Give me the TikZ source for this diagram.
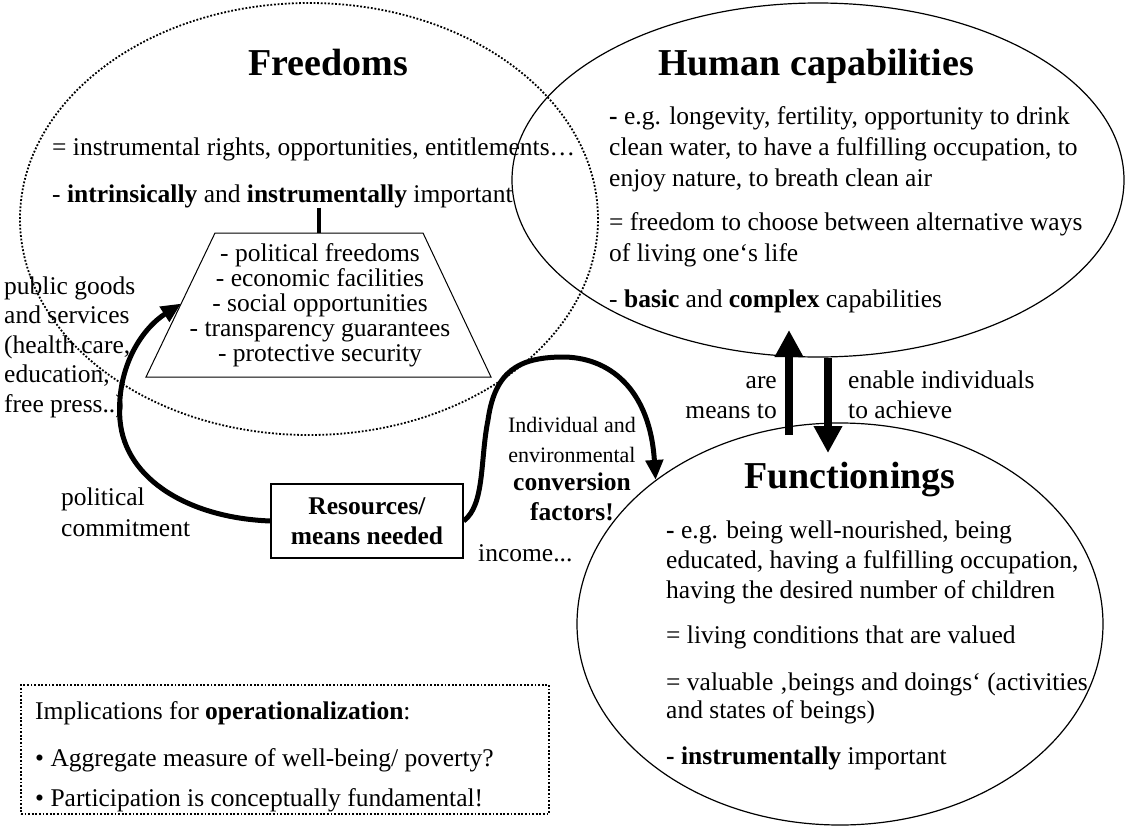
\documentclass[tikz,border=0pt]{standalone}
\usepackage{fontspec}
\setmainfont{Liberation Serif}
\usetikzlibrary{shapes.geometric,arrows.meta,calc}
\begin{document}
\begin{tikzpicture}[x=1pt,y=-1pt,
  body/.style={font=\fontsize{25.5}{31}\selectfont, inner sep=0pt, anchor=base west},
  bodyr/.style={body, anchor=base east},
  small/.style={font=\fontsize{22}{26}\selectfont, inner sep=0pt, anchor=base},
  boldc/.style={font=\fontsize{25.5}{31}\selectfont\bfseries, inner sep=0pt, anchor=base},
  ttl/.style={font=\fontsize{38}{44}\selectfont\bfseries, inner sep=0pt, anchor=base},
  dotline/.style={line width=1.8pt, dash pattern=on 1.8pt off 1.8pt},
  solidell/.style={ellipse, draw, line width=1.2pt, inner sep=0pt},
  bigarrow/.style={line width=8pt, -{Triangle[length=27pt,width=27pt]}},
  curvearrow/.style={line width=5pt, -{Triangle[length=20pt,width=17pt]}},
]
\useasboundingbox (0,0) rectangle (1125,830);

% ellipses
\node[ellipse, draw, dotline, inner sep=0pt, minimum width=578pt, minimum height=432pt] (fr) at (309,219) {};
\node[solidell, minimum width=612pt, minimum height=354pt] (hc) at (818,180) {};
\node[solidell, minimum width=526pt, minimum height=402pt] (fn) at (840,624) {};

% titles
\node[ttl] (frt) at (328,75) {Freedoms};
\node[ttl] (hct) at (816,75) {Human capabilities};
\node[ttl] (fnt) at (850,488) {Functionings};

% Freedoms text
\node[body] (fr1) at (52,155) {= instrumental rights, opportunities, entitlements…};
\node[body] (fr2) at (52,202) {- \textbf{intrinsically} and \textbf{instrumentally} important};

% trapezoid
\coordinate (trTL) at (215,233);
\coordinate (trTR) at (423,233);
\coordinate (trBR) at (491,377);
\coordinate (trBL) at (146,377);
\coordinate (trN) at (319,233);
\draw[line width=1pt] (trTL) -- (trTR) -- (trBR) -- (trBL) -- cycle;
\node[font=\fontsize{25.5}{25}\selectfont, inner sep=0pt, align=center] (trtext) at (320,305) {- political freedoms\\- economic facilities\\- social opportunities\\- transparency guarantees\\- protective security};
\draw[line width=4pt] (trN |- fr2.south) -- (trN);

% capabilities text
\node[body] (hc1) at (609,124) {\textbf{-} e.g. longevity, fertility, opportunity to drink};
\node[body] (hc2) at (609,155) {clean water, to have a fulfilling occupation, to};
\node[body] (hc3) at (609,186) {enjoy nature, to breath clean air};
\node[body] (hc4) at (609,230) {= freedom to choose between alternative ways};
\node[body] (hc5) at (609,261) {of living one‘s life};
\node[body] (hc6) at (609,307) {- \textbf{basic} and \textbf{complex} capabilities};

% functionings text
\node[body] (fn1) at (666,538) {\textbf{-} e.g. being well-nourished, being};
\node[body] (fn2) at (666,568) {educated, having a fulfilling occupation,};
\node[body] (fn3) at (666,598) {having the desired number of children};
\node[body] (fn4) at (666,643) {= living conditions that are valued};
\node[body] (fn5) at (666,690) {= valuable ‚beings and doings‘ (activities};
\node[body] (fn6) at (666,718) {and states of beings)};
\node[body] (fn7) at (666,764) {\textbf{- instrumentally} important};

% left labels
\node[body] (pg1) at (4,294) {public goods};
\node[body] (pg2) at (4,323.5) {and services};
\node[body] (pg3) at (4,353) {(health care,};
\node[body] (pg4) at (4,382.5) {education,};
\node[body] (pg5) at (4,412) {free press..)};
\node[body] (pc1) at (61,505) {political};
\node[body] (pc2) at (61,536) {commitment};
\node[body] (inc) at (478,561) {income...};

% conversion factors
\node[small] (cf1) at (572,432) {Individual and};
\node[small] (cf2) at (572,462) {environmental};
\node[boldc] (cf3) at (572,490) {conversion};
\node[boldc] (cf4) at (572,520) {factors!};

% arrow labels
\node[bodyr] (am1) at (777,388) {are};
\node[bodyr] (am2) at (777,418) {means to};
\node[body] (ea1) at (848,388) {enable individuals};
\node[body] (ea2) at (848,418) {to achieve};

% resources box
\node[draw, line width=1.2pt, minimum width=192pt, minimum height=74pt, inner sep=0pt,
      align=center, font=\fontsize{25.5}{30}\selectfont\bfseries] (res) at (367,521) {Resources/\\means needed};

% curved arrows
\draw[curvearrow] (res.west) .. controls (190,518) and (125,480) .. (120,420)
   .. controls (116,370) and (140,330) .. ($(trTL)!0.49!(trBL)$);
\draw[curvearrow] (res.east) .. controls (485,505) and (480,460) .. (488,420)
   .. controls (495,370) and (520,358) .. (560,357)
   .. controls (610,356) and (650,390) .. (fn.142);

% vertical arrows
\coordinate (upS) at (789,435);
\coordinate (upE) at (789,330);
\coordinate (dnS) at (828,358);
\coordinate (dnE) at (828,453);
\draw[bigarrow] (upS) -- (upE);
\draw[bigarrow] (dnS) -- (dnE);

% implications box
\node[draw, dotline, minimum width=528pt, minimum height=129pt, inner sep=0pt, anchor=north west] (impl) at (20,684) {};
\node[body] (im1) at (35,719) {Implications for \textbf{operationalization}:};
\node[body] (im2) at (35,766) {• Aggregate measure of well-being/ poverty?};
\node[body] (im3) at (35,806) {• Participation is conceptually fundamental!};
\end{tikzpicture}
\end{document}
